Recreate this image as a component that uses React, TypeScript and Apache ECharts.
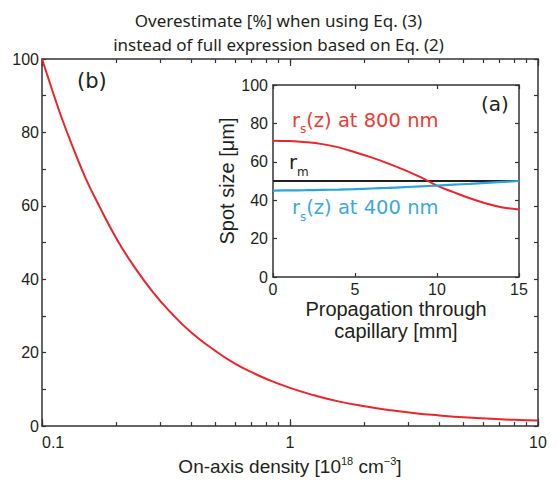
import React, { useEffect, useRef } from 'react';
import * as echarts from 'echarts';

// Main plot (b): overestimate vs on-axis density
const densityX = [0.1, 0.11, 0.12, 0.135, 0.15, 0.17, 0.2, 0.235, 0.28, 0.33, 0.4, 0.5, 0.6, 0.7, 0.8, 1.0, 1.25, 1.6, 2.0, 2.5, 3.2, 4, 5, 6.5, 8, 10];
const overestimate = [100, 91.5, 84, 75, 67.5, 60, 51, 43.5, 36.5, 31, 25.5, 20.5, 17, 14.7, 12.9, 10.4, 8.4, 6.6, 5.4, 4.4, 3.5, 2.9, 2.4, 2.0, 1.7, 1.5];
const densityMinorTicks = [0.1, 0.2, 0.3, 0.4, 0.5, 0.6, 0.7, 0.8, 0.9, 1, 2, 3, 4, 5, 6, 7, 8, 9, 10];
const densityMajorTicks = [0.1, 1, 10];
const densityLabels = [0.1, 1, 10];

// Inset (a): spot size vs propagation
const propagationZ = [0, 1, 2, 3, 4, 5, 6, 7, 8, 9, 10, 11, 12, 13, 14, 15];
const spot800 = [71, 70.8, 70.2, 69.2, 67.5, 65, 62.3, 59.2, 55.8, 52, 47.6, 44.2, 41.0, 38.3, 36.2, 35.2];
const spot400 = [45, 45.1, 45.2, 45.35, 45.55, 45.8, 46.1, 46.4, 46.8, 47.2, 47.6, 48.1, 48.5, 49.0, 49.5, 50];
const rmZ = [0, 15];
const rmValue = [50, 50];

const RED = '#e8262b';
const RED_TEXT = '#ec3b35';
const BLUE = '#2aa4dd';
const BLUE_TEXT = '#3aa9e0';
const DARK = '#231f20';
const AXIS = '#333333';
const SANS = 'Liberation Sans';
const TITLE_FONT = 'Noto Sans';
const LABEL_FONT = 'DejaVu Sans';

const zip = (xs: number[], ys: number[]) => xs.map((x, i) => [x, ys[i]]);

const lineStyle = { color: AXIS, width: 1.5 };
const tickStyle = { color: AXIS, width: 1.2 };

export default function App() {
  const ref = useRef<HTMLDivElement>(null);
  useEffect(() => {
    if (!ref.current) return;
    const chart = echarts.init(ref.current, undefined, { renderer: 'svg' });
    const mainGrid = { left: 42, top: 59, width: 496, height: 371 };
    const insetGrid = { left: 273, top: 85, width: 246, height: 192 };

    const curveLabel = (text: string, x: number, y: number, color: string) => ({
      type: 'text',
      x,
      y,
      style: {
        text,
        fill: color,
        verticalAlign: 'middle',
        rich: {
          a: { fontSize: 19.5, fontFamily: LABEL_FONT, color, lineHeight: 30, verticalAlign: 'middle' },
          s: { fontSize: 12, fontFamily: LABEL_FONT, color, lineHeight: 12, verticalAlign: 'bottom' },
        },
      },
    });

    const option: any = {
      animation: false,
      backgroundColor: '#fff',
      title: {
        text: 'Overestimate [%] when using Eq. (3)\ninstead of full expression based on Eq. (2)',
        left: 'center',
        top: 3,
        textStyle: { fontSize: 17, lineHeight: 24, fontWeight: 'normal', fontFamily: TITLE_FONT, color: DARK },
      },
      grid: [
        { ...mainGrid, containLabel: false },
        { ...insetGrid, containLabel: false },
      ],
      xAxis: [
        {
          type: 'log', logBase: 10, min: 0.1, max: 10, gridIndex: 0, position: 'bottom',
          axisLine: { show: true, lineStyle },
          axisTick: { show: true, inside: true, length: 4, lineStyle: tickStyle, customValues: densityMinorTicks },
          axisLabel: {
            show: true, customValues: densityLabels, fontSize: 16, fontFamily: SANS, color: DARK, margin: 8,
            alignMinLabel: 'left',
            formatter: (v: number) => (v < 1 ? String(Math.round(v * 10) / 10) : String(Math.round(v))),
          },
          splitLine: { show: false },
          name: 'On-axis density [10{sup|18} cm{sup|−3}]',
          nameLocation: 'middle',
          nameGap: 23,
          nameTextStyle: {
            fontSize: 19, fontFamily: SANS, color: DARK, lineHeight: 22,
            rich: { sup: { fontSize: 11, fontFamily: SANS, color: DARK, verticalAlign: 'top', lineHeight: 22 } },
          },
        },
        {
          type: 'log', logBase: 10, min: 0.1, max: 10, gridIndex: 0, position: 'bottom',
          axisLine: { show: false },
          axisTick: { show: true, inside: true, length: 7, lineStyle: tickStyle, customValues: densityMajorTicks },
          axisLabel: { show: false },
          splitLine: { show: false },
        },
        {
          type: 'log', logBase: 10, min: 0.1, max: 10, gridIndex: 0, position: 'top',
          axisLine: { show: true, lineStyle },
          axisTick: { show: true, inside: true, length: 4, lineStyle: tickStyle, customValues: densityMinorTicks },
          axisLabel: { show: false },
          splitLine: { show: false },
        },
        {
          type: 'log', logBase: 10, min: 0.1, max: 10, gridIndex: 0, position: 'top',
          axisLine: { show: false },
          axisTick: { show: true, inside: true, length: 7, lineStyle: tickStyle, customValues: densityMajorTicks },
          axisLabel: { show: false },
          splitLine: { show: false },
        },
        {
          type: 'value', min: 0, max: 15, interval: 5, gridIndex: 1, position: 'bottom',
          axisLine: { show: true, onZero: false, lineStyle },
          axisTick: { show: true, inside: true, length: 4, lineStyle: tickStyle },
          axisLabel: { fontSize: 16, fontFamily: SANS, color: DARK, margin: 4 },
          splitLine: { show: false },
          name: 'Propagation through\ncapillary [mm]',
          nameLocation: 'middle',
          nameGap: 19,
          nameTextStyle: { fontSize: 20, fontFamily: SANS, color: DARK, lineHeight: 22, verticalAlign: 'top' },
        },
        {
          type: 'value', min: 0, max: 15, interval: 5, gridIndex: 1, position: 'top',
          axisLine: { show: true, onZero: false, lineStyle },
          axisTick: { show: true, inside: true, length: 4, lineStyle: tickStyle },
          axisLabel: { show: false },
          splitLine: { show: false },
        },
      ],
      yAxis: [
        {
          type: 'value', min: 0, max: 100, interval: 10, gridIndex: 0, position: 'left',
          axisLine: { show: true, onZero: false, lineStyle },
          axisTick: { show: true, inside: true, length: 4, lineStyle: tickStyle },
          axisLabel: {
            fontSize: 16, fontFamily: SANS, color: DARK, margin: 3,
            formatter: (v: number) => (v % 20 === 0 ? String(v) : ''),
          },
          splitLine: { show: false },
        },
        {
          type: 'value', min: 0, max: 100, interval: 10, gridIndex: 0, position: 'right',
          axisLine: { show: true, onZero: false, lineStyle },
          axisTick: { show: true, inside: true, length: 4, lineStyle: tickStyle },
          axisLabel: { show: false },
          splitLine: { show: false },
        },
        {
          type: 'value', min: 0, max: 100, interval: 20, gridIndex: 1, position: 'left',
          axisLine: { show: true, onZero: false, lineStyle },
          axisTick: { show: true, inside: true, length: 4, lineStyle: tickStyle },
          axisLabel: { fontSize: 16, fontFamily: SANS, color: DARK, margin: 5 },
          splitLine: { show: false },
          name: 'Spot size [μm]',
          nameLocation: 'middle',
          nameGap: 33,
          nameRotate: 90,
          nameTextStyle: { fontSize: 20, fontFamily: SANS, color: DARK },
        },
        {
          type: 'value', min: 0, max: 100, interval: 20, gridIndex: 1, position: 'right',
          axisLine: { show: true, onZero: false, lineStyle },
          axisTick: { show: true, inside: true, length: 4, lineStyle: tickStyle },
          axisLabel: { show: false },
          splitLine: { show: false },
        },
      ],
      series: [
        {
          type: 'line', xAxisIndex: 0, yAxisIndex: 0, data: zip(densityX, overestimate),
          smooth: 0.5, showSymbol: false, lineStyle: { color: RED, width: 2 },
        },
        {
          type: 'line', xAxisIndex: 4, yAxisIndex: 2, data: zip(rmZ, rmValue),
          showSymbol: false, lineStyle: { color: DARK, width: 1.8 },
        },
        {
          type: 'line', xAxisIndex: 4, yAxisIndex: 2, data: zip(propagationZ, spot800),
          smooth: 0.4, showSymbol: false, lineStyle: { color: RED, width: 2 },
        },
        {
          type: 'line', xAxisIndex: 4, yAxisIndex: 2, data: zip(propagationZ, spot400),
          smooth: 0.4, showSymbol: false, lineStyle: { color: BLUE, width: 2.2 },
        },
      ],
      graphic: [
        { type: 'text', x: 77, y: 81, style: { text: '(b)', fontSize: 21, fontFamily: LABEL_FONT, fill: DARK, verticalAlign: 'middle' } },
        { type: 'text', x: 481, y: 104, style: { text: '(a)', fontSize: 20, fontFamily: LABEL_FONT, fill: DARK, verticalAlign: 'middle' } },
        curveLabel('{a|r}{s|s}{a|(z) at 800 nm}', 292, 120, RED_TEXT),
        curveLabel('{a|r}{s|m}', 289, 162.5, DARK),
        curveLabel('{a|r}{s|s}{a|(z) at 400 nm}', 292, 207.5, BLUE_TEXT),
      ],
    };
    chart.setOption(option);
    return () => chart.dispose();
  }, []);
  return (
    <div
      ref={ref}
      style={{ position: 'fixed', left: 0, top: 0, width: 557, height: 482, background: '#fff' }}
    />
  );
}
